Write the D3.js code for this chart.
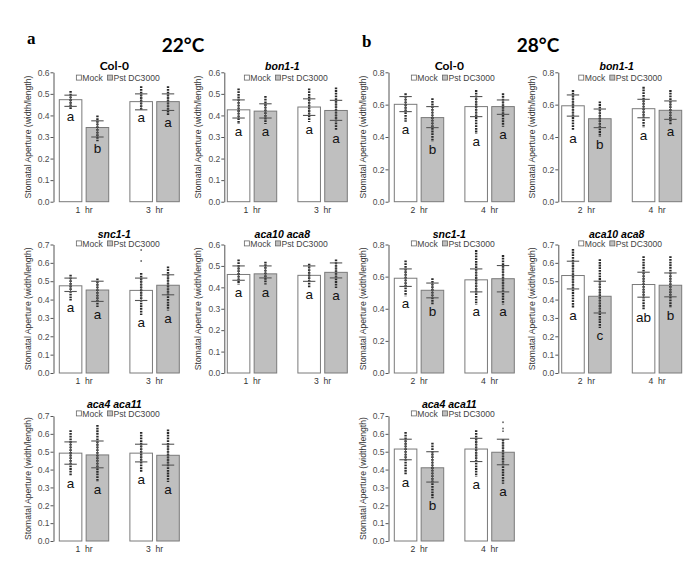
<!DOCTYPE html>
<html><head><meta charset="utf-8">
<script src="https://cdn.jsdelivr.net/npm/d3@7"></script>
<style>body{margin:0;background:#fff}svg{display:block}</style>
</head><body><svg id="c" width="696" height="575"></svg>
<script>
// ---------- DATA ----------
const treatments = ["Mock", "Pst DC3000"];
const genotypes = ["Col-0", "bon1-1", "snc1-1", "aca10 aca8", "aca4 aca11"];
const times22 = ["1  hr", "3  hr"];
const times28 = ["2  hr", "4  hr"];
const yMax22 = [0.6, 0.6, 0.7, 0.6, 0.7];
const yMax28 = [0.8, 0.8, 0.8, 0.7, 0.7];
const yStep22 = [0.1, 0.1, 0.1, 0.1, 0.1];
const yStep28 = [0.2, 0.2, 0.2, 0.1, 0.1];
// order per genotype: [Mock t1, Pst t1, Mock t2, Pst t2]
const mean22 = [
  [0.473, 0.344, 0.464, 0.464],
  [0.426, 0.420, 0.439, 0.423],
  [0.475, 0.452, 0.450, 0.478],
  [0.460, 0.463, 0.456, 0.470],
  [0.492, 0.482, 0.492, 0.480]];
const hi22 = [
  [0.494, 0.375, 0.500, 0.500],
  [0.472, 0.454, 0.477, 0.470],
  [0.517, 0.500, 0.517, 0.535],
  [0.500, 0.500, 0.500, 0.514],
  [0.555, 0.560, 0.542, 0.542]];
const lo22 = [
  [0.442, 0.300, 0.426, 0.423],
  [0.388, 0.388, 0.400, 0.377],
  [0.444, 0.390, 0.395, 0.426],
  [0.433, 0.444, 0.428, 0.444],
  [0.430, 0.410, 0.443, 0.425]];
const pmax22 = [
  [0.513, 0.400, 0.535, 0.535],
  [0.525, 0.490, 0.525, 0.530],
  [0.535, 0.515, 0.545, 0.580],
  [0.530, 0.520, 0.510, 0.530],
  [0.620, 0.650, 0.610, 0.625]];
const pmin22 = [
  [0.430, 0.280, 0.425, 0.400],
  [0.360, 0.360, 0.370, 0.330],
  [0.395, 0.360, 0.316, 0.340],
  [0.413, 0.413, 0.400, 0.397],
  [0.365, 0.330, 0.385, 0.330]];
const letters22 = [
  ["a", "b", "a", "a"],
  ["a", "a", "a", "a"],
  ["a", "a", "a", "a"],
  ["a", "a", "a", "a"],
  ["a", "a", "a", "a"]];
const mean28 = [
  [0.602, 0.520, 0.588, 0.588],
  [0.593, 0.513, 0.575, 0.565],
  [0.590, 0.515, 0.580, 0.587],
  [0.531, 0.418, 0.482, 0.478],
  [0.515, 0.410, 0.515, 0.497]];
const hi28 = [
  [0.650, 0.588, 0.650, 0.629],
  [0.660, 0.573, 0.633, 0.623],
  [0.648, 0.560, 0.648, 0.669],
  [0.609, 0.500, 0.549, 0.545],
  [0.570, 0.500, 0.575, 0.570]];
const lo28 = [
  [0.557, 0.458, 0.526, 0.540],
  [0.529, 0.458, 0.519, 0.509],
  [0.539, 0.468, 0.505, 0.505],
  [0.458, 0.327, 0.413, 0.415],
  [0.455, 0.330, 0.445, 0.427]];
const pmax28 = [
  [0.670, 0.640, 0.690, 0.670],
  [0.690, 0.620, 0.710, 0.690],
  [0.700, 0.590, 0.765, 0.734],
  [0.676, 0.620, 0.636, 0.636],
  [0.610, 0.550, 0.620, 0.570]];
const pmin28 = [
  [0.495, 0.370, 0.420, 0.464],
  [0.440, 0.400, 0.458, 0.478],
  [0.478, 0.427, 0.427, 0.427],
  [0.355, 0.245, 0.345, 0.355],
  [0.370, 0.240, 0.360, 0.320]];
const letters28 = [
  ["a", "b", "a", "a"],
  ["a", "b", "a", "a"],
  ["a", "b", "a", "a"],
  ["a", "c", "ab", "b"],
  ["a", "b", "a", "a"]];
// isolated outlying points: [genotype, bar, value]
const outliers22 = [[2, 2, 0.670], [2, 2, 0.610]];
const outliers28 = [[4, 3, 0.665], [4, 3, 0.630], [4, 3, 0.615]];

// ---------- LAYOUT ----------
const svg = d3.select("#c");
const cols = [{ax: 53.5, x0: 59.3}, {ax: 224.3, x0: 227.3}, {ax: 388.5, x0: 394.3}, {ax: 558.3, x0: 561.7}];
const rows = [
  {top: 72.3, bot: 201.7, title: 70, legend: 80.7, xl: 213},
  {top: 244.5, bot: 373, title: 237.5, legend: 246.5, xl: 384},
  {top: 416, bot: 541, title: 407.5, legend: 416.5, xl: 552}];
const pos22 = [[0, 0], [0, 1], [1, 0], [1, 1], [2, 0]];
const pos28 = [[0, 2], [0, 3], [1, 2], [1, 3], [2, 2]];

const FONT = "'Liberation Sans', Arial, sans-serif";
const fills = {"Mock": "#ffffff", "Pst DC3000": "#bfbfbf"};

function panel(gi, temp) {
  const is22 = temp === 22;
  const [ri, ci] = (is22 ? pos22 : pos28)[gi];
  const R = rows[ri], C = cols[ci];
  const times = is22 ? times22 : times28;
  const yMax = (is22 ? yMax22 : yMax28)[gi];
  const step = (is22 ? yStep22 : yStep28)[gi];
  const M = (is22 ? mean22 : mean28)[gi], H = (is22 ? hi22 : hi28)[gi], L = (is22 ? lo22 : lo28)[gi];
  const PX = (is22 ? pmax22 : pmax28)[gi], PN = (is22 ? pmin22 : pmin28)[gi];
  const LT = (is22 ? letters22 : letters28)[gi];
  const outs = (is22 ? outliers22 : outliers28).filter(o => o[0] === gi);

  const xo = d3.scaleBand().domain(times).range([C.x0, C.x0 + 120]).paddingInner(0.3);
  const xi = d3.scaleBand().domain(treatments).range([0, xo.bandwidth()]).paddingInner(0.16);
  const y = d3.scaleLinear().domain([0, yMax]).range([R.bot, R.top]);
  const g = svg.append("g");

  // axis
  const ticks = d3.range(0, yMax + 1e-9, step);
  const ax = g.append("g").attr("transform", `translate(${C.ax},0)`)
    .call(d3.axisLeft(y).tickValues(ticks).tickFormat(d3.format(".1f")).tickSize(3).tickSizeOuter(0));
  ax.select(".domain").attr("stroke", "#555");
  ax.selectAll(".tick line").attr("stroke", "#555");
  ax.selectAll(".tick text").attr("fill", "#4d4d4d").attr("font-family", FONT).attr("font-size", 8.5).attr("x", -4);

  g.append("text").attr("transform", `translate(${C.ax - 23},${(R.top + R.bot) / 2}) rotate(-90)`)
    .attr("text-anchor", "middle").attr("font-family", FONT).attr("font-size", 8.6).attr("fill", "#333")
    .text("Stomatal Aperture (width/length)");

  const bars = [];
  times.forEach((t, ti) => treatments.forEach((tr, k) => {
    const i = ti * 2 + k;
    bars.push({t, tr, i, x: xo(t) + xi(tr), w: xi.bandwidth()});
  }));

  g.selectAll("rect.bar").data(bars).join("rect").attr("class", "bar")
    .attr("x", d => d.x).attr("width", d => d.w)
    .attr("y", d => y(M[d.i])).attr("height", d => y(0) - y(M[d.i]))
    .attr("fill", d => fills[d.tr]).attr("stroke", "#7a7a7a").attr("stroke-width", 1);

  // data points column
  g.selectAll("line.pts").data(bars).join("line")
    .attr("x1", d => d.x + d.w / 2).attr("x2", d => d.x + d.w / 2)
    .attr("y1", d => y(PX[d.i])).attr("y2", d => y(PN[d.i]))
    .attr("stroke", "#2a2a2a").attr("stroke-width", 2.4).attr("stroke-dasharray", "1.8,0.9");
  g.selectAll("circle.out").data(outs).join("circle")
    .attr("cx", d => bars[d[1]].x + bars[d[1]].w / 2).attr("cy", d => y(d[2])).attr("r", 0.9).attr("fill", "#666");

  // error bars
  g.selectAll("line.eb").data(bars).join("line")
    .attr("x1", d => d.x + d.w / 2).attr("x2", d => d.x + d.w / 2)
    .attr("y1", d => y(H[d.i])).attr("y2", d => y(L[d.i])).attr("stroke", "#555").attr("stroke-width", 1);
  [H, L].forEach(V => {
    g.selectAll(null).data(bars).join("line")
      .attr("x1", d => d.x + d.w / 2 - 6.2).attr("x2", d => d.x + d.w / 2 + 6.2)
      .attr("y1", d => y(V[d.i])).attr("y2", d => y(V[d.i])).attr("stroke", "#555").attr("stroke-width", 1.1);
  });

  // letters
  g.selectAll("text.let").data(bars).join("text")
    .attr("x", d => d.x + d.w / 2).attr("y", d => y(PN[d.i]) + 12)
    .attr("text-anchor", "middle").attr("font-family", FONT).attr("font-size", 13.5).attr("fill", "#111")
    .text(d => LT[d.i]);

  // x labels
  g.selectAll("text.xl").data(times).join("text")
    .attr("x", t => xo(t) + xo.bandwidth() / 2).attr("y", R.xl)
    .attr("text-anchor", "middle").attr("font-family", FONT).attr("font-size", 8.6).attr("fill", "#333")
    .style("white-space", "pre").text(t => t);

  // title
  const cx = C.x0 + 60;
  const name = genotypes[gi];
  const tt = g.append("text").attr("x", cx - 5).attr("y", R.title).attr("text-anchor", "middle").text(name);
  if (name === "Col-0") tt.attr("font-family", "Lato, 'Open Sans', sans-serif").attr("font-weight", 700).attr("font-size", 12);
  else tt.attr("font-family", FONT).attr("font-weight", 700).attr("font-style", "italic").attr("font-size", 10.5);

  // legend
  const lg = g.append("g");
  let lx = 0;
  treatments.forEach(tr => {
    lg.append("rect").attr("x", lx).attr("y", -5.6).attr("width", 5).attr("height", 5)
      .attr("fill", fills[tr]).attr("stroke", "#666").attr("stroke-width", 0.8);
    const tx = lg.append("text").attr("x", lx + 6).attr("y", 0).attr("font-family", FONT)
      .attr("font-size", 8.6).attr("fill", "#444").text(tr);
    lx += 6 + tx.node().getComputedTextLength() + 4.5;
  });
  lg.attr("transform", `translate(${cx - lx / 2 + 1},${R.legend})`);
}

genotypes.forEach((_, gi) => { panel(gi, 22); panel(gi, 28); });

// headers
svg.append("text").attr("x", 27).attr("y", 44).attr("font-family", "'Liberation Serif', 'DejaVu Serif', serif")
  .attr("font-weight", 700).attr("font-size", 17).text("a");
svg.append("text").attr("x", 183).attr("y", 52).attr("text-anchor", "middle").attr("font-family", "Lato, 'Open Sans', sans-serif")
  .attr("font-weight", 700).attr("font-size", 19).text("22°C");
svg.append("text").attr("x", 362).attr("y", 47).attr("font-family", "'Liberation Serif', 'DejaVu Serif', serif")
  .attr("font-weight", 700).attr("font-size", 17).text("b");
svg.append("text").attr("x", 538).attr("y", 52).attr("text-anchor", "middle").attr("font-family", "Lato, 'Open Sans', sans-serif")
  .attr("font-weight", 700).attr("font-size", 19).text("28°C");
</script></body></html>
